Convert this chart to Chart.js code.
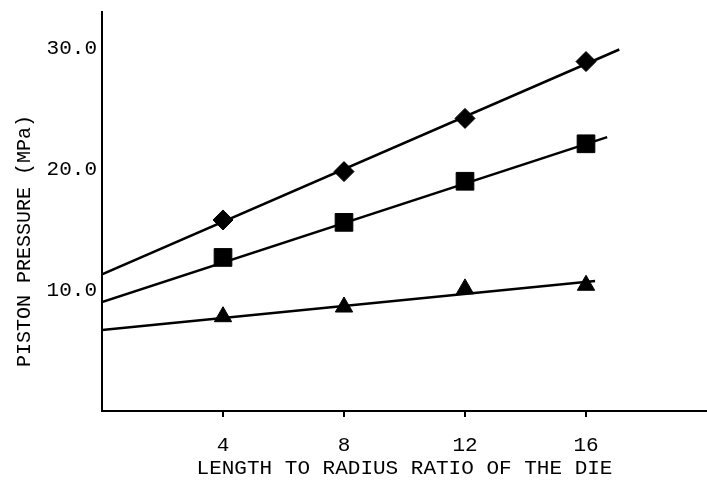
<!DOCTYPE html>
<html>
<head>
<meta charset="utf-8">
<script src="https://cdn.jsdelivr.net/npm/chart.js@4"></script>
<style>
  html, body { margin: 0; padding: 0; background: #fff; }
  #wrap { width: 707px; height: 481px; }
</style>
</head>
<body>
<div id="wrap"><canvas id="pressureChart" width="707" height="481"></canvas></div>
<script>
// valores
const ratios = [4, 8, 12, 16];
const diamondValues = [15.8, 19.8, 24.2, 28.9];
const squareValues = [12.7, 15.6, 19.0, 22.1];
const triangleValues = [7.8, 8.6, 10.1, 10.4];

// retas ajustadas (início e fim)
const diamondFitX = [0, 17.1];
const diamondFitY = [11.3, 29.9];
const squareFitX = [0, 16.7];
const squareFitY = [9.0, 22.65];
const triangleFitX = [0, 16.3];
const triangleFitY = [6.7, 10.75];

// ticks dos eixos
const xTicks = [0, 4, 8, 12, 16, 20];
const xLabels = ['', '4', '8', '12', '16', ''];
const yTicks = [10, 20, 30];
const yLabels = ['10.0', '20.0', '30.0'];

const FONT = "'Liberation Mono', 'DejaVu Sans Mono', monospace";

function toPoints(xs, ys) {
    return xs.map((x, i) => ({ x: x, y: ys[i] }));
}

function fitLine(xs, ys) {
    return {
        type: 'line',
        data: toPoints(xs, ys),
        borderColor: '#000',
        borderWidth: 2.5,
        pointRadius: 0,
        fill: false,
        order: 2
    };
}

function markers(values, style, radius) {
    return {
        type: 'scatter',
        data: toPoints(ratios, values),
        pointStyle: style,
        pointRadius: radius,
        pointBackgroundColor: '#000',
        pointBorderColor: '#000',
        pointBorderWidth: 1,
        showLine: false,
        order: 1
    };
}

// sem folga extra para rótulos nas pontas dos eixos
function noEdgePadding(scale) {
    scale.paddingTop = 0;
    scale.paddingBottom = 0;
    scale.paddingLeft = 0;
    scale.paddingRight = 0;
}

// título do eixo y desenhado na posição do original
const yTitlePlugin = {
    id: 'yTitle',
    afterDraw(chart) {
        const ctx = chart.ctx;
        ctx.save();
        ctx.translate(25, 241);
        ctx.rotate(-Math.PI / 2);
        ctx.font = '20px ' + FONT;
        ctx.fillStyle = '#000';
        ctx.textAlign = 'center';
        ctx.textBaseline = 'middle';
        ctx.fillText('PISTON PRESSURE (MPa)', 0, 0);
        ctx.restore();
    }
};

const config = {
    type: 'scatter',
    data: {
        datasets: [
            fitLine(diamondFitX, diamondFitY),
            fitLine(squareFitX, squareFitY),
            fitLine(triangleFitX, triangleFitY),
            markers(diamondValues, 'rectRot', 10),
            markers(squareValues, 'rect', 12.5),
            markers(triangleValues, 'triangle', 10)
        ]
    },
    options: {
        responsive: false,
        animation: false,
        layout: {
            autoPadding: false,
            padding: { top: 12, right: 0, bottom: 0, left: 0 }
        },
        plugins: {
            legend: { display: false },
            tooltip: { enabled: false }
        },
        scales: {
            x: {
                type: 'linear',
                min: 0,
                max: 20,
                afterFit(scale) {
                    scale.height = 70;
                    noEdgePadding(scale);
                },
                afterBuildTicks(scale) {
                    scale.ticks = xTicks.map(v => ({ value: v }));
                },
                border: { display: true, color: '#000', width: 2 },
                grid: {
                    drawOnChartArea: false,
                    drawTicks: true,
                    tickLength: 6,
                    lineWidth: 2,
                    color: (ctx) => (ctx.tick && xLabels[xTicks.indexOf(ctx.tick.value)] === '') ? 'rgba(0,0,0,0)' : '#000'
                },
                ticks: {
                    color: '#000',
                    padding: 16,
                    maxRotation: 0,
                    autoSkip: false,
                    font: { family: FONT, size: 21 },
                    callback: (value) => xLabels[xTicks.indexOf(value)] ?? ''
                },
                title: {
                    display: true,
                    text: 'LENGTH TO RADIUS RATIO OF THE DIE',
                    color: '#000',
                    padding: 0,
                    font: { family: FONT, size: 21 }
                }
            },
            y: {
                type: 'linear',
                min: 0,
                max: 33,
                afterFit(scale) {
                    scale.width = 102;
                    noEdgePadding(scale);
                },
                afterBuildTicks(scale) {
                    scale.ticks = yTicks.map(v => ({ value: v }));
                },
                border: { display: true, color: '#000', width: 2 },
                grid: { drawOnChartArea: false, drawTicks: false },
                ticks: {
                    color: '#000',
                    padding: 5,
                    autoSkip: false,
                    font: { family: FONT, size: 21 },
                    callback: (value) => yLabels[yTicks.indexOf(value)] ?? ''
                }
            }
        }
    },
    plugins: [yTitlePlugin]
};

const pressureChart = new Chart(
    document.getElementById('pressureChart'),
    config
);
</script>
</body>
</html>
